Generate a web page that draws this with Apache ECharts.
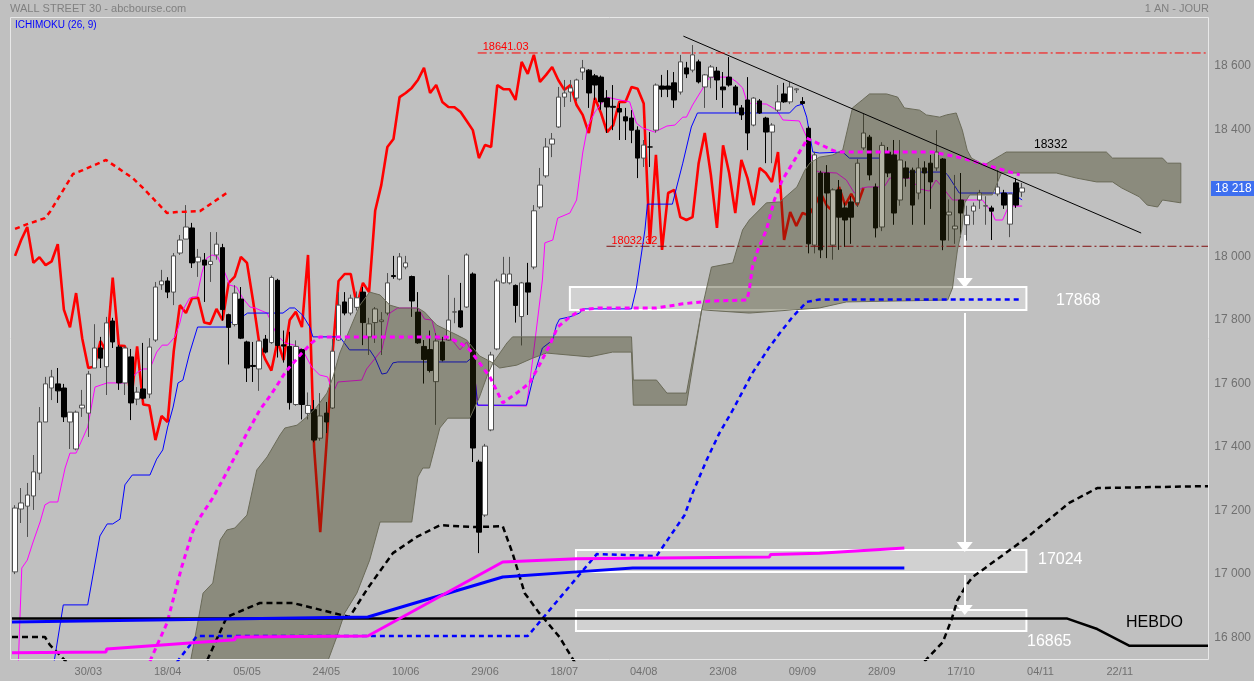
<!DOCTYPE html>
<html>
<head>
<meta charset="utf-8">
<script src="https://cdn.jsdelivr.net/npm/echarts@6/dist/echarts.min.js"></script>
<style>
html, body { margin: 0; padding: 0; background: #c0c0c0; }
#chart { width: 1254px; height: 681px; }
</style>
</head>
<body>
<div id="chart"></div>
<script>
// daily slots: 166 candles + 30 days of projected cloud
const slotCount = 196;
const tickLabels = ['30/03', '18/04', '05/05', '24/05', '10/06', '29/06', '18/07', '04/08', '23/08', '09/09', '28/09', '17/10', '04/11', '22/11'];
const firstTick = 12, tickStep = 13;

// [open, high, low, close]
const candles = [
  [17007,17217,17000,17208],[17205,17271,17161,17224],[17214,17287,17117,17249],[17246,17375,17202,17322],
  [17318,17526,17296,17479],[17479,17621,17479,17599],[17586,17643,17548,17621],[17599,17649,17539,17577],
  [17586,17599,17479,17495],[17479,17510,17394,17510],[17394,17515,17390,17510],[17523,17580,17495,17532],
  [17507,17640,17432,17630],[17649,17787,17649,17712],[17712,17747,17649,17680],[17653,17810,17564,17791],
  [17797,17807,17712,17731],[17715,17722,17580,17602],[17602,17718,17564,17712],[17684,17709,17485,17539],
  [17551,17589,17532,17573],[17583,17728,17550,17554],[17567,17743,17554,17715],[17737,17920,17731,17904],
  [17911,17958,17895,17923],[17923,17935,17869,17888],[17888,18011,17847,18002],[18011,18068,18005,18052],
  [18055,18162,18055,18093],[18090,18106,17964,17980],[17983,18024,17936,17998],[17989,18011,17857,17973],
  [17975,18077,17920,17985],[18005,18077,17990,18039],[18028,18040,17798,17833],[17817,17820,17660,17777],
  [17786,17910,17780,17885],[17866,17904,17740,17743],[17731,17735,17605,17649],[17657,17731,17605,17654],
  [17646,17734,17577,17734],[17740,17753,17695,17699],[17729,17940,17725,17934],[17925,17930,17682,17720],
  [17722,17767,17666,17718],[17717,17763,17518,17540],[17534,17736,17530,17717],[17707,17710,17487,17534],
  [17506,17572,17487,17531],[17518,17548,17415,17422],[17428,17570,17420,17498],[17507,17542,17444,17479],
  [17523,17740,17520,17702],[17737,17888,17735,17847],[17857,17888,17815,17822],[17822,17880,17815,17869],
  [17840,17890,17830,17870],[17888,17904,17721,17792],[17747,17807,17690,17788],[17792,17841,17728,17835],
  [17795,17825,17690,17800],[17822,17948,17815,17917],[17940,18002,17930,17937],[17929,18011,17925,17999],
  [17967,18002,17960,17980],[17937,17940,17810,17860],[17825,17888,17725,17728],[17717,17737,17600,17676],
  [17707,17767,17635,17641],[17606,17759,17470,17734],[17731,17747,17670,17674],[17737,17942,17735,17800],
  [17825,17870,17790,17826],[17829,17917,17775,17778],[17841,18010,17838,18005],[17945,17950,17353,17397],
  [17353,17360,17066,17132],[17186,17410,17180,17403],[17454,17700,17450,17690],[17709,17930,17705,17923],
  [17917,17999,17915,17945],[17917,17999,17912,17945],[17909,17912,17792,17846],[17811,17920,17720,17917],
  [17917,17980,17816,17888],[17967,18162,17960,18144],[18156,18279,18150,18225],[18254,18373,18248,18345],
  [18354,18389,18313,18370],[18408,18534,18405,18502],[18502,18556,18471,18515],[18518,18556,18487,18531],
  [18499,18560,18490,18556],[18581,18619,18556,18594],[18587,18590,18468,18515],[18569,18575,18493,18540],
  [18565,18570,18462,18487],[18499,18524,18389,18471],[18473,18540,18398,18470],[18466,18483,18367,18455],
  [18440,18468,18367,18427],[18436,18461,18357,18398],[18398,18410,18247,18310],[18310,18367,18282,18351],
  [18345,18392,18282,18345],[18398,18545,18390,18540],[18537,18572,18502,18527],[18537,18587,18502,18527],
  [18547,18581,18468,18493],[18518,18635,18510,18613],[18594,18613,18562,18575],[18587,18666,18580,18635],
  [18613,18620,18545,18550],[18534,18575,18468,18572],[18565,18603,18530,18597],[18584,18597,18493,18556],
  [18534,18581,18468,18525],[18565,18628,18535,18540],[18534,18540,18452,18477],[18468,18477,18430,18446],
  [18493,18565,18335,18389],[18414,18502,18410,18499],[18490,18496,18449,18452],[18436,18440,18294,18392],
  [18392,18420,18294,18414],[18461,18540,18455,18487],[18512,18547,18484,18487],[18487,18550,18480,18534],
  [18525,18530,18515,18528],[18488,18502,18478,18482],[18404,18410,18010,18040],[18036,18330,18010,18320],
  [18263,18270,17995,18021],[18263,18288,17995,18200],[18036,18215,17990,18210],[18210,18241,18021,18124],
  [18153,18170,18030,18115],[18172,18190,18040,18124],[18169,18307,18156,18294],[18342,18449,18335,18389],
  [18376,18383,18240,18257],[18219,18230,18060,18090],[18093,18360,18080,18350],[18329,18345,18250,18263],
  [18320,18367,18100,18137],[18178,18367,18160,18304],[18279,18300,18220,18247],[18272,18280,18100,18162],
  [18200,18310,18180,18279],[18279,18300,18100,18263],[18294,18320,18150,18235],[18279,18398,18270,18329],
  [18307,18310,18020,18052],[18131,18180,18050,18140],[18087,18257,18040,18096],[18178,18263,18060,18137],
  [18100,18160,18050,18130],[18143,18170,18100,18159],[18178,18210,18150,18200],[18159,18190,18100,18160],
  [18153,18160,18052,18143],[18197,18272,18190,18219],[18200,18210,18150,18162],[18102,18200,18061,18197],
  [18232,18247,18153,18162],[18203,18232,18188,18216]
];
const chikouShift = 26;

// [slot, value] vertices
const tenkan = [[0.5,16700],[1.1,17019],[2,17044],[2.9,17098],[4.1,17164],[4.9,17218],[5.7,17227],[7,17227],[7.7,17290],[8.2,17334],[9,17381],[10,17381],[11.9,17463],[13.1,17589],[15.1,17602],[18.3,17602],[19.2,17621],[20.1,17636],[21,17646],[22.1,17646],[23.2,17699],[24.1,17721],[25,17721],[26.2,17747],[27,17791],[27.5,17832],[28.6,17869],[29.8,17873],[30.6,17948],[31.4,17995],[32.3,18005],[33.2,17999],[34.4,17948],[35.2,17910],[36.3,17904],[37.3,17869],[38.5,17841],[39.3,17838],[41.3,17822],[42.9,17753],[44.2,17728],[45.8,17721],[47.1,17706],[48.6,17652],[49.9,17627],[51.2,17621],[52.1,17570],[52.9,17605],[56.8,17611],[57.6,17646],[60.1,17706],[61.4,17822],[62.7,17838],[66,17838],[67.1,17803],[68.3,17800],[69.1,17740],[71.6,17737],[72.9,17706],[74,17731],[75,17690],[75.8,17532],[83.8,17529],[84.8,17674],[86.4,17926],[86.8,18043],[88.1,18052],[88.9,18121],[90.9,18137],[92,18178],[93,18326],[93.8,18408],[95,18455],[96.9,18502],[99.1,18493],[100.7,18487],[101.8,18420],[102.8,18405],[104.8,18392],[106.8,18411],[108.1,18414],[109.4,18439],[110,18439],[111,18477],[112.5,18524],[113.8,18565],[117.1,18565],[118.2,18550],[119.2,18531],[120,18483],[123.1,18480],[124.8,18461],[125.8,18430],[128.5,18427],[129.7,18376],[131,18272],[131.8,18266],[134.6,18263],[136.2,18241],[137.5,18200],[138.8,18216],[139.7,18219],[142.4,18219],[143.3,18247],[146.6,18247],[148.2,18213],[149.8,18206],[150.9,18241],[151.9,18219],[153.6,18178],[158.5,18178],[160,18140],[160.6,18115],[161.8,18115],[162.8,18159],[165,18159]];
const kijun = [[6.2,16700],[7.9,16903],[11.9,16903],[13.9,17120],[15.1,17158],[16,17158],[17.2,17173],[18,17281],[19.2,17312],[22.1,17312],[23.2,17362],[24.2,17391],[25,17463],[25.9,17526],[26.7,17602],[27.5,17611],[28.6,17696],[29.9,17778],[34.7,17778],[35.5,17794],[37.2,17810],[38.1,17822],[43.9,17822],[45,17838],[45.8,17838],[47.1,17816],[48.3,17778],[48.8,17747],[53.2,17747],[54.8,17706],[58.1,17706],[59,17680],[60.1,17630],[60.9,17633],[61.9,17665],[62.7,17668],[74,17668],[75,17684],[75.8,17532],[83.8,17532],[84.8,17611],[86.4,17712],[88.1,17737],[88.7,17784],[89.2,17803],[90.9,17810],[92.5,17822],[93,17835],[101,17835],[101.8,17901],[103.2,18084],[103.6,18165],[107.7,18165],[108.4,18219],[109.4,18294],[110.8,18408],[111.8,18452],[126.9,18452],[128,18474],[129,18480],[129.7,18439],[130.7,18329],[131.8,18326],[135.6,18329],[136.7,18310],[142.8,18310],[143.3,18279],[145.4,18279],[146.2,18266],[152.3,18266],[152.8,18257],[154.7,18200],[163.4,18200],[165,18178]];
const cloudTop = [[28,16650],[29.8,16833],[30.8,16940],[32.4,16972],[33.6,17107],[34.7,17139],[36,17145],[38,17186],[39.6,17328],[41.3,17369],[43.4,17438],[44.2,17460],[46.2,17469],[47.8,17495],[49.4,17526],[51.1,17570],[52.1,17621],[53.2,17696],[54.8,17769],[56.5,17847],[58.1,17888],[59.8,17879],[61.4,17847],[63,17838],[66,17838],[67.1,17825],[68.3,17800],[69.1,17784],[70.7,17769],[72.4,17753],[74,17737],[76.1,17687],[78.3,17665],[80.6,17728],[81.5,17747],[101,17747],[101.3,17611],[105.1,17611],[106.8,17570],[110,17570],[112.5,17832],[114.1,17967],[117.6,17980],[119.2,18084],[120.3,18115],[123.1,18169],[125.3,18172],[126.6,18194],[128.1,18219],[129.4,18272],[130.2,18294],[131.8,18313],[134,18320],[135.6,18335],[137.2,18468],[138.8,18493],[140,18512],[142.8,18512],[144.6,18502],[145.7,18468],[148.2,18461],[149.3,18446],[151.5,18439],[152.6,18446],[154.2,18452],[155.2,18398],[156,18335],[156.7,18310],[158.8,18288],[161.6,18320],[162.4,18329],[178.8,18329],[179.8,18310],[188,18310],[188.8,18294],[191,18294]];
const cloudBottom = [[28,16300],[51,16700],[51.3,16729],[52.7,16802],[54,16877],[56,16940],[58.1,17044],[59.8,17164],[65,17164],[66,17306],[66.8,17334],[67.9,17334],[69.6,17460],[70.9,17491],[74.5,17491],[76.1,17558],[77.4,17627],[78.3,17665],[79.4,17649],[82.2,17658],[84.8,17680],[87.1,17696],[94.1,17684],[97.9,17699],[101,17699],[101.3,17532],[110,17532],[112.5,17832],[120.3,17822],[131.8,17838],[136.2,17857],[152.8,17863],[153.6,17901],[153.9,17948],[154.4,18021],[155.1,18084],[155.6,18169],[156.4,18194],[160.1,18194],[161.6,18263],[170.6,18263],[173.9,18247],[177.2,18235],[179.8,18235],[181.3,18216],[184.2,18188],[185.5,18162],[187.2,18156],[188,18178],[191,18169]];
const oldChikou = [[0,18087],[2,18102],[4.9,18121],[5.7,18140],[9.5,18260],[11.1,18272],[14.9,18304],[19.3,18247],[20.95,18216],[24.9,18137],[26.5,18140],[30.3,18143],[34.9,18203]];
const weeklyKijunDaily = [[21.5,16700],[24.9,16846],[27.3,17022],[29,17129],[30,17170],[32.4,17240],[34.9,17328],[38,17444],[40.1,17517],[42.1,17570],[44.2,17633],[45,17652],[47,17696],[48.6,17728],[49.9,17747],[70.7,17747],[72.9,17728],[74.5,17706],[76.1,17665],[77.8,17621],[79.9,17539],[82.2,17570],[84.3,17602],[85.9,17658],[87.6,17721],[88.9,17778],[90.9,17810],[92.8,17832],[95.5,17838],[105.1,17838],[109.4,17851],[113.8,17860],[119.9,17863],[120.3,17895],[120.8,17967],[121.7,18021],[123.1,18084],[124.4,18178],[125.7,18241],[127.4,18294],[129.4,18357],[129.7,18373],[131,18361],[131.8,18354],[133.9,18335],[134.8,18329],[150.3,18329],[155.2,18310],[160.8,18279],[164.6,18257]];
const blueDashed = [[25.6,16700],[29.8,16805],[84,16805],[95.3,17063],[105.1,17057],[109.7,17186],[111,17255],[113.3,17359],[115.4,17444],[117.6,17517],[120.8,17633],[123.6,17715],[125.3,17759],[127.4,17810],[129.7,17857],[131.8,17865],[164.6,17865]];
const blackDashedA = [[-0.5,16802],[4.9,16802],[5.7,16777],[9.6,16700]];
const blackDashedB = [[30.8,16700],[34.7,16865],[40.1,16909],[45.5,16909],[54.8,16865],[57.8,16956],[61.9,17066],[65.8,17117],[69.6,17154],[75.6,17148],[79.9,17151],[81.5,17066],[83.5,16940],[85.9,16877],[89.2,16802],[92.4,16700]];
const blackDashedC = [[149,16725],[152,16786],[153.4,16855],[154.4,16918],[155.9,16966],[156.9,16991],[158.5,17013],[165.7,17114],[172.7,17224],[177.3,17271],[195.5,17277]];
const weeklyMagenta = [[-0.5,16752],[14.9,16755],[15,16764],[36,16793],[36.1,16802],[57.8,16805],[79.9,17038],[92,17048],[123.6,17054],[123.8,17062],[131.8,17066],[145.7,17082]];
const weeklyBlue = [[-0.5,16849],[57.8,16865],[79.9,16991],[92,17007],[101.2,17019],[145.7,17019]];
const weeklyBlack = [[-0.5,16860],[172.4,16860],[177.3,16827],[182.6,16774],[195.5,16774]];
const trendLine = [[109.5,18694],[184.5,18074]];
const highLevel = 18641.03, lowLevel = 18032.32;
const highStart = 75.8, lowStart = 96.9;
const targetBoxes = [[90.9,17904,165.7,17832],[91.9,17076,165.7,17007],[91.9,16887,165.7,16821]];
const arrowSlot = 155.6;
const arrows = [[18068,17917],[17822,17085],[16997,16887]];
const lastPrice = 18218;

const chart = echarts.init(document.getElementById('chart'));
const font = 'Liberation Sans, Arial, sans-serif';
const slots = Array.from({length: slotCount}, (_, i) => i);
const fmt = v => String(Math.round(v)).replace(/\B(?=(\d{3})+(?!\d))/g, ' ');

function line(data, color, width, type, z) {
  return {
    type: 'line', xAxisIndex: 1, yAxisIndex: 0, data: data, symbol: 'none', silent: true, z: z,
    lineStyle: {color: color, width: width, type: type, cap: 'butt'}
  };
}

// horizontal dash-dot level with its value written at the left end
function level(value, start, color) {
  const s = line([[start, value], [slotCount - 0.5, value]], color, 1, [9, 3, 2, 3], 5);
  s.showSymbol = true;
  s.symbol = 'circle';
  s.symbolSize = 0.1;
  s.label = {
    show: true, position: 'top', align: 'left', offset: [5, 5], color: '#ff0000', fontSize: 11, fontFamily: font,
    formatter: p => (p.dataIndex === 0 ? String(value) : '')
  };
  return s;
}

const chikou = candles.slice(chikouShift).map((c, k) => [k, c[3]]);

chart.setOption({
  animation: false,
  backgroundColor: '#c0c0c0',
  grid: {left: 12, top: 17, width: 1197, height: 643},
  xAxis: [{
    type: 'category', data: slots, boundaryGap: true,
    axisLine: {show: false}, axisTick: {show: false}, splitLine: {show: false},
    axisLabel: {
      color: '#707070', fontSize: 11, fontFamily: font, margin: 6,
      interval: i => i >= firstTick && (i - firstTick) % tickStep === 0,
      formatter: (v, i) => tickLabels[(i - firstTick) / tickStep] || ''
    }
  }, {
    type: 'value', min: -0.5, max: slotCount - 0.5, show: false
  }],
  yAxis: {
    type: 'value', position: 'right', min: 16729.5, max: 18754.3, splitNumber: 10, scale: true,
    axisLine: {show: false}, axisTick: {show: false}, splitLine: {show: false},
    axisLabel: {color: '#707070', fontSize: 12, fontFamily: font, margin: 6,
      showMinLabel: false, showMaxLabel: false, formatter: fmt}
  },
  series: [
    {
      type: 'candlestick', xAxisIndex: 0, yAxisIndex: 0, barWidth: 5, z: 2, silent: true,
      data: candles.map(c => [c[0], c[3], c[2], c[1]]),
      itemStyle: {color: '#ffffff', color0: '#000000', borderColor: '#505050', borderColor0: '#000000', borderWidth: 1}
    },
    line(chikou, '#ff0000', 2.6, 'solid', 2),
    line(tenkan, '#ff00ff', 1, 'solid', 2),
    line(kijun, '#0000ff', 1, 'solid', 2),
    {
      type: 'custom', xAxisIndex: 1, yAxisIndex: 0, z: 3, silent: true, clip: true,
      data: [[100, 17500]],
      renderItem: function (params, api) {
        const pts = cloudTop.concat(cloudBottom.slice().reverse()).map(p => api.coord(p));
        return {
          type: 'group',
          clipPath: {type: 'rect', shape: {x: params.coordSys.x, y: params.coordSys.y, width: params.coordSys.width, height: params.coordSys.height}},
          children: [{type: 'polygon', shape: {points: pts},
            style: {fill: 'rgba(48,48,10,0.37)', stroke: '#6a6a58', lineWidth: 1}}]
        };
      }
    },
    Object.assign(line([], '#fff', 0, 'solid', 3), {
      markArea: {
        silent: true,
        itemStyle: {color: 'rgba(255,255,255,0.28)', borderColor: '#ffffff', borderWidth: 2},
        data: targetBoxes.map(b => [{coord: [b[0], b[1]]}, {coord: [b[2], b[3]]}])
      },
      markLine: {
        silent: true, symbol: ['none', 'triangle'], symbolSize: [16, 10],
        lineStyle: {color: '#ffffff', width: 2, type: 'solid'}, label: {show: false},
        data: arrows.map(a => [{coord: [arrowSlot, a[0]]}, {coord: [arrowSlot, a[1]]}])
      }
    }),
    line(oldChikou, '#ff0000', 2.5, [5, 4], 4),
    line(weeklyKijunDaily, '#ff00ff', 3, [5, 4], 4),
    line(blueDashed, '#0000ff', 2.5, [5, 4], 4),
    line(blackDashedA, '#000000', 2.5, [6, 4], 4),
    line(blackDashedB, '#000000', 2.5, [6, 4], 4),
    line(blackDashedC, '#000000', 2.5, [6, 4], 4),
    line(weeklyBlack, '#000000', 2.5, 'solid', 4),
    line(weeklyBlue, '#0000ff', 3, 'solid', 4),
    line(weeklyMagenta, '#ff00ff', 3, 'solid', 4),
    line(trendLine, '#000000', 1, 'solid', 5),
    level(highLevel, highStart, '#ff0000'),
    level(lowLevel, lowStart, '#801010')
  ],
  graphic: [
    {type: 'rect', silent: true, z: 100, shape: {x: 10.5, y: 17.5, width: 1198, height: 642}, style: {fill: 'none', stroke: '#e8e8e8', lineWidth: 1}},
    {type: 'text', x: 10, y: 9, style: {text: 'WALL STREET 30 - abcbourse.com', fill: '#808080', font: '11px ' + font, textVerticalAlign: 'middle'}},
    {type: 'text', x: 1209, y: 9, style: {text: '1 AN - JOUR', fill: '#808080', font: '11px ' + font, textAlign: 'right', textVerticalAlign: 'middle'}},
    {type: 'text', x: 15, y: 25, z: 100, style: {text: 'ICHIMOKU (26, 9)', fill: '#0000ff', font: '10px ' + font, textVerticalAlign: 'middle'}},
    {type: 'text', x: 1034, y: 145, z: 100, style: {text: '18332', fill: '#000000', font: '12px ' + font, textVerticalAlign: 'middle'}},
    {type: 'text', x: 1056, y: 301, z: 100, style: {text: '17868', fill: '#ffffff', font: '16px ' + font, textVerticalAlign: 'middle'}},
    {type: 'text', x: 1038, y: 560, z: 100, style: {text: '17024', fill: '#ffffff', font: '16px ' + font, textVerticalAlign: 'middle'}},
    {type: 'text', x: 1027, y: 642, z: 100, style: {text: '16865', fill: '#ffffff', font: '16px ' + font, textVerticalAlign: 'middle'}},
    {type: 'text', x: 1126, y: 623, z: 100, style: {text: 'HEBDO', fill: '#000000', font: '16px ' + font, textVerticalAlign: 'middle'}},
    {type: 'rect', z: 100, shape: {x: 1211, y: 181, width: 43, height: 15}, style: {fill: '#3d6ff0'}},
    {type: 'text', x: 1215, y: 188.5, z: 101, style: {text: fmt(lastPrice), fill: '#ffffff', font: '12px ' + font, textVerticalAlign: 'middle'}}
  ]
});
</script>
</body>
</html>
